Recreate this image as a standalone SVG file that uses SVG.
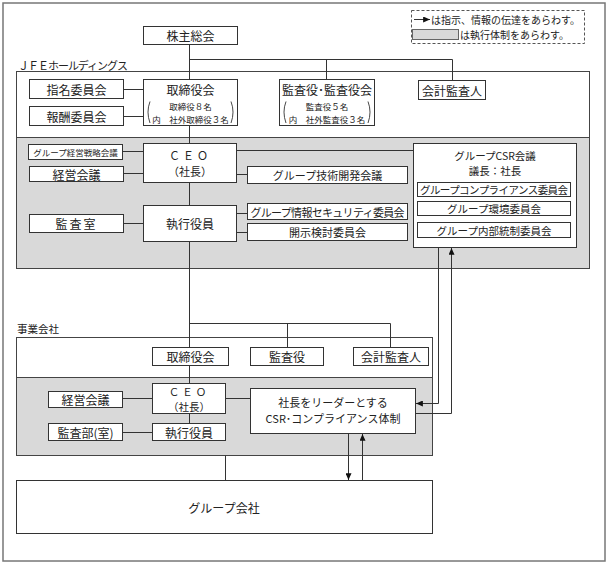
<svg xmlns="http://www.w3.org/2000/svg" width="609" height="566" viewBox="0 0 609 566">
<style>
.box{fill:#fff;stroke:#333;stroke-width:1}
.frame{fill:#fff;stroke:#444;stroke-width:1}
.gray{fill:#d9d9d9;stroke:#444;stroke-width:1}
.t{font-family:"Noto Sans CJK JP","Noto Sans CJK SC",sans-serif;font-size:12px;fill:#222;text-anchor:middle;dominant-baseline:central}
.s{font-size:8.5px}
.m{font-size:11px}
.l{text-anchor:start}
.ln{stroke:#333;stroke-width:1;fill:none}
.br{stroke:#333;stroke-width:0.9;fill:none}
</style>
<defs>
<marker id="ah" viewBox="0 0 8 7" refX="8" refY="3.5" markerWidth="7" markerHeight="6" markerUnits="userSpaceOnUse" orient="auto">
<path d="M0,0 L8,3.5 L0,7 z" fill="#111"/>
</marker>
</defs>
<rect x="0" y="0" width="609" height="566" fill="#fff"/>
<rect x="3" y="3" width="602" height="558" fill="none" stroke="#777" stroke-width="1.5"/>

<g id="legend">
<rect x="411.5" y="10.5" width="173" height="33" fill="none" stroke="#555" stroke-dasharray="3,2"/>
<line x1="414" y1="19.5" x2="430" y2="19.5" class="ln" marker-end="url(#ah)"/>
<text x="431" y="19" class="t l" style="font-size:10px">は指示、情報の伝達をあらわす。</text>
<rect x="412.5" y="29.5" width="46" height="10" fill="#d9d9d9" stroke="#666"/>
<text x="460" y="34.5" class="t l" style="font-size:10px">は執行体制をあらわす。</text>
</g>

<g id="jfe-frame">
<rect x="16.5" y="71.5" width="573" height="197" class="frame"/>
<rect x="16.5" y="137.5" width="573" height="131" class="gray"/>
<text x="18" y="65" class="t l m" textLength="110">ＪＦＥホールディングス</text>
</g>

<g id="jigyo-frame">
<rect x="16.5" y="337.5" width="416" height="118" class="frame"/>
<rect x="16.5" y="377.5" width="416" height="78" class="gray"/>
<text x="17" y="328" class="t l" style="font-size:10.5px">事業会社</text>
</g>

<g id="connectors">
<line x1="189.5" y1="44.5" x2="189.5" y2="79.5" class="ln"/>
<polyline points="189.5,59.5 452.5,59.5 452.5,80.5" class="ln"/>
<line x1="326.5" y1="59.5" x2="326.5" y2="79.5" class="ln"/>
<line x1="123.5" y1="89.5" x2="143.5" y2="89.5" class="ln"/>
<line x1="123.5" y1="116.5" x2="143.5" y2="116.5" class="ln"/>
<line x1="189.5" y1="125.5" x2="189.5" y2="143.5" class="ln"/>
<line x1="122.5" y1="151.5" x2="143.5" y2="151.5" class="ln"/>
<line x1="123.5" y1="173.5" x2="143.5" y2="173.5" class="ln"/>
<line x1="236.5" y1="150.5" x2="413.5" y2="150.5" class="ln"/>
<line x1="236.5" y1="174.5" x2="247.5" y2="174.5" class="ln"/>
<line x1="189.5" y1="182.5" x2="189.5" y2="205.5" class="ln"/>
<line x1="123.5" y1="223.5" x2="143.5" y2="223.5" class="ln"/>
<line x1="236.5" y1="213.5" x2="247.5" y2="213.5" class="ln"/>
<line x1="236.5" y1="232.5" x2="247.5" y2="232.5" class="ln"/>
<line x1="189.5" y1="241.5" x2="189.5" y2="347.5" class="ln"/>
<polyline points="189.5,323.5 390.5,323.5 390.5,347.5" class="ln"/>
<line x1="287.5" y1="323.5" x2="287.5" y2="347.5" class="ln"/>
<polyline points="438.5,247.5 438.5,403.5 416,403.5" class="ln" marker-end="url(#ah)"/>
<polyline points="415.5,413.5 451.5,413.5 451.5,248" class="ln" marker-end="url(#ah)"/>
<line x1="189.5" y1="365.5" x2="189.5" y2="383.5" class="ln"/>
<line x1="122.5" y1="398.5" x2="152.5" y2="398.5" class="ln"/>
<line x1="225.5" y1="398.5" x2="250.5" y2="398.5" class="ln"/>
<line x1="189.5" y1="413.5" x2="189.5" y2="423.5" class="ln"/>
<line x1="122.5" y1="432.5" x2="152.5" y2="432.5" class="ln"/>
<line x1="225.5" y1="455.5" x2="225.5" y2="480.5" class="ln"/>
<line x1="348.5" y1="433.5" x2="348.5" y2="480" class="ln" marker-end="url(#ah)"/>
<line x1="362.5" y1="480.5" x2="362.5" y2="434" class="ln" marker-end="url(#ah)"/>
</g>

<g id="kabunushi"><rect x="143.5" y="26.5" width="94" height="18" class="box"/><text x="190.5" y="35.5" class="t">株主総会</text></g>
<g id="shimei"><rect x="29.5" y="79.5" width="94" height="19" class="box"/><text x="76.5" y="89" class="t">指名委員会</text></g>
<g id="hoshu"><rect x="29.5" y="106.5" width="94" height="19" class="box"/><text x="76.5" y="116" class="t">報酬委員会</text></g>
<g id="torishimariyaku"><rect x="143.5" y="79.5" width="94" height="46" class="box"/>
<text x="190.5" y="89.5" class="t">取締役会</text>
<text x="190.5" y="106" class="t s">取締役８名</text>
<text x="190.5" y="118.5" class="t s">内　社外取締役３名</text>
<path d="M150,101.5 Q146,112 150,123" class="br"/><path d="M231,101.5 Q235,112 231,123" class="br"/>
</g>
<g id="kansayaku"><rect x="279.5" y="79.5" width="95" height="46" class="box"/>
<text x="327" y="89.5" class="t">監査役･監査役会</text>
<text x="327" y="106" class="t s">監査役５名</text>
<text x="327" y="118.5" class="t s">内　社外監査役３名</text>
<path d="M286,101.5 Q282,112 286,123" class="br"/><path d="M368,101.5 Q372,112 368,123" class="br"/>
</g>
<g id="kaikei"><rect x="418.5" y="80.5" width="67" height="19" class="box"/><text x="452" y="90" class="t">会計監査人</text></g>
<g id="senryaku"><rect x="28.5" y="144.5" width="94" height="15" class="box"/><text x="75.5" y="152" class="t" style="font-size:8.5px">グループ経営戦略会議</text></g>
<g id="keiei"><rect x="29.5" y="166.5" width="94" height="15" class="box"/><text x="76.5" y="174" class="t">経営会議</text></g>
<g id="ceo"><rect x="143.5" y="143.5" width="93" height="39" class="box"/><text x="190" y="155" class="t m" letter-spacing="3">ＣＥＯ</text><text x="190" y="171" class="t m">（社長）</text></g>
<g id="gijutsu"><rect x="247.5" y="166.5" width="160" height="17" class="box"/><text x="327.5" y="175" class="t m">グループ技術開発会議</text></g>
<g id="shikko"><rect x="143.5" y="205.5" width="93" height="36" class="box"/><text x="190" y="223.5" class="t">執行役員</text></g>
<g id="kansashitsu"><rect x="29.5" y="214.5" width="94" height="18" class="box"/><text x="76.5" y="223.5" class="t" letter-spacing="2">監査室</text></g>
<g id="security"><rect x="247.5" y="203.5" width="160" height="16" class="box"/><text x="327.5" y="211.5" class="t m" textLength="154">グループ情報セキュリティ委員会</text></g>
<g id="kaiji"><rect x="247.5" y="223.5" width="160" height="17" class="box"/><text x="327.5" y="232" class="t m">開示検討委員会</text></g>
<g id="csr"><rect x="413.5" y="143.5" width="163" height="104" class="box"/>
<text x="495" y="155" class="t" style="font-size:10.5px">グループCSR会議</text>
<text x="495" y="170" class="t" style="font-size:10.5px">議長：社長</text>
<rect x="417.5" y="182.5" width="153" height="14" class="box"/><text x="494" y="189.5" class="t" style="font-size:10.5px" textLength="148">グループコンプライアンス委員会</text>
<rect x="417.5" y="201.5" width="153" height="14" class="box"/><text x="494" y="208.5" class="t" style="font-size:10.5px">グループ環境委員会</text>
<rect x="417.5" y="222.5" width="153" height="15" class="box"/><text x="494" y="230" class="t" style="font-size:10.5px">グループ内部統制委員会</text>
</g>

<g id="j-torishimariyaku"><rect x="152.5" y="347.5" width="76" height="18" class="box"/><text x="190.5" y="356.5" class="t">取締役会</text></g>
<g id="j-kansayaku"><rect x="250.5" y="347.5" width="73" height="18" class="box"/><text x="287" y="356.5" class="t">監査役</text></g>
<g id="j-kaikei"><rect x="353.5" y="347.5" width="75" height="18" class="box"/><text x="391" y="356.5" class="t">会計監査人</text></g>
<g id="j-ceo"><rect x="152.5" y="383.5" width="73" height="30" class="box"/><text x="189" y="391" class="t" style="font-size:10.5px" letter-spacing="3">ＣＥＯ</text><text x="189" y="406" class="t" style="font-size:10.5px">（社長）</text></g>
<g id="j-keiei"><rect x="48.5" y="391.5" width="74" height="16" class="box"/><text x="85.5" y="399.5" class="t">経営会議</text></g>
<g id="j-shikko"><rect x="152.5" y="423.5" width="73" height="17" class="box"/><text x="189" y="432" class="t">執行役員</text></g>
<g id="j-kansabu"><rect x="48.5" y="423.5" width="74" height="17" class="box"/><text x="85.5" y="432" class="t">監査部(室)</text></g>
<g id="j-csr"><rect x="250.5" y="388.5" width="165" height="45" class="box"/><text x="333" y="402" class="t m">社長をリーダーとする</text><text x="333" y="418" class="t m">CSR･コンプライアンス体制</text></g>
<g id="group"><rect x="16.5" y="480.5" width="416" height="53" class="box"/><text x="224" y="507" class="t">グループ会社</text></g>
</svg>
